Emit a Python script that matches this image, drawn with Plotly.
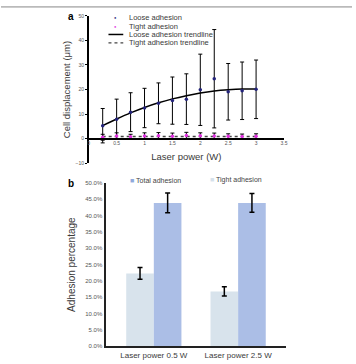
import plotly.graph_objects as go

# ---- Panel a data ----
power = [0.25, 0.5, 0.75, 1.0, 1.25, 1.5, 1.75, 2.0, 2.25, 2.5, 2.75, 3.0]
loose = [5.3, 7.9, 10.8, 12.5, 14.4, 15.5, 16.1, 19.9, 24.4, 19.1, 19.5, 20.1]
loose_err = [7.0, 8.2, 7.9, 8.0, 8.3, 9.6, 10.3, 14.5, 20.0, 11.5, 11.7, 11.9]
tight = [0.6, 1.1, 0.8, 1.1, 1.2, 1.0, 1.3, 1.2, 1.1, 1.0, 0.9, 1.0]
tight_err = [1.2, 1.3, 1.0, 1.3, 1.3, 1.3, 1.3, 1.2, 1.2, 1.0, 1.0, 1.0]
loose_trend = [5.3, 8.0, 10.5, 12.7, 14.6, 16.2, 17.5, 18.6, 19.4, 19.9, 20.2, 20.2]
tight_trend = [0.9, 0.9, 0.9, 0.9, 0.9, 0.9, 0.9, 0.9, 0.9, 0.9, 0.9, 0.9]
xticks_a = [0, 0.5, 1, 1.5, 2, 2.5, 3, 3.5]
xtick_text_a = ["0", "0.5", "1", "1.5", "2", "2.5", "3", "3.5"]
yticks_a = [-10, 0, 10, 20, 30, 40, 50]
legend_a = ["Loose adhesion", "Tight adhesion", "Loose adhesion trendline", "Tight adhesion trendline"]

# ---- Panel b data ----
groups = ["Laser power 0.5 W", "Laser power 2.5 W"]
tight_pct = [0.223, 0.168]
tight_pct_err = [0.018, 0.014]
total_pct = [0.439, 0.439]
total_pct_err = [0.030, 0.029]
legend_b = ["Total adhesion", "Tight adhesion"]

FONT = "Liberation Sans, Arial, sans-serif"
NAVY = "#23237a"
MAGENTA = "#e030e0"
TIGHT_COL = "#d8e3ec"
TOTAL_COL = "#abbee6"
TEXT = "#3a3a3a"

fig = go.Figure()

# Panel a
fig.add_trace(go.Scatter(
    x=power, y=loose_trend, mode="lines", line=dict(color="black", width=1.5, shape="spline"),
    name=legend_a[2], xaxis="x", yaxis="y", showlegend=False))
fig.add_trace(go.Scatter(
    x=power, y=tight_trend, mode="lines", line=dict(color="#444444", width=1.5, dash="dot"),
    name=legend_a[3], xaxis="x", yaxis="y", showlegend=False))
fig.add_trace(go.Scatter(
    x=power, y=loose, mode="markers", marker=dict(color=NAVY, size=3.5),
    error_y=dict(type="data", array=loose_err, color="black", thickness=1, width=2),
    name=legend_a[0], xaxis="x", yaxis="y", showlegend=False))
fig.add_trace(go.Scatter(
    x=power, y=tight, mode="markers", marker=dict(color=MAGENTA, size=3.5),
    error_y=dict(type="data", array=tight_err, color="black", thickness=1, width=2),
    name=legend_a[1], xaxis="x", yaxis="y", showlegend=False))

# Panel b
fig.add_trace(go.Bar(
    x=groups, y=tight_pct, marker=dict(color=TIGHT_COL, line=dict(width=0)),
    error_y=dict(type="data", array=tight_pct_err, color="black", thickness=1.5, width=2.5),
    name=legend_b[1], xaxis="x2", yaxis="y2", showlegend=False))
fig.add_trace(go.Bar(
    x=groups, y=total_pct, marker=dict(color=TOTAL_COL, line=dict(width=0)),
    error_y=dict(type="data", array=total_pct_err, color="black", thickness=1.5, width=2.5),
    name=legend_b[0], xaxis="x2", yaxis="y2", showlegend=False))

W, H = 356, 364
def px(x):
    return x / W
def py(y):
    return 1 - y / H

fig.update_layout(
    width=W, height=H, margin=dict(l=0, r=0, t=0, b=0),
    paper_bgcolor="white", plot_bgcolor="white",
    font=dict(family=FONT, color=TEXT),
    showlegend=False,
    barmode="group", bargap=0.345, bargroupgap=0,
    xaxis=dict(domain=[px(89), px(287)], range=[0, 3.5], anchor="free", position=py(138),
               tickvals=xticks_a, ticktext=xtick_text_a, showgrid=False, zeroline=False,
               showline=True, linecolor="black", linewidth=1.5, ticks="",
               tickfont=dict(size=5, color="#555555"),
               title=dict(text="Laser power (W)", font=dict(size=9.5, color=TEXT), standoff=7)),
    yaxis=dict(domain=[py(163), py(13)], range=[-10, 50], anchor="x", position=px(89),
               tickvals=yticks_a, showgrid=False, zeroline=False,
               showline=True, linecolor="black", linewidth=1.5, ticks="outside", ticklen=2,
               tickcolor="black", tickfont=dict(size=5, color="#555555"),
               title=dict(text="Cell displacement (μm)", font=dict(size=9.5, color=TEXT), standoff=3)),
    xaxis2=dict(domain=[px(106), px(289)], range=[-0.573, 1.567], anchor="y2",
                showgrid=False, showline=True, linecolor="#222222", linewidth=2, ticks="",
                tickfont=dict(size=8, color=TEXT)),
    yaxis2=dict(domain=[py(349), py(183)], range=[0, 0.5], anchor="x2",
                dtick=0.05, tickformat=".1%", showgrid=False, zeroline=False,
                showline=True, linecolor="#222222", linewidth=2, ticks="",
                tickfont=dict(size=6, color="#555555"),
                title=dict(text="Adhesion percentage", font=dict(size=10, color=TEXT), standoff=8)),
)

def note(text, x, y, size, color=TEXT, xanchor="left"):
    fig.add_annotation(text=text, xref="paper", yref="paper", x=x, y=y,
                       xanchor=xanchor, yanchor="middle", showarrow=False,
                       font=dict(size=size, color=color, family=FONT))

# top rule
fig.add_shape(type="line", xref="paper", yref="paper", x0=0, x1=1, y0=py(4), y1=py(4),
              line=dict(color="#888888", width=1))
# panel labels
note("<b>a</b>", px(71), py(14), 10, "black", "center")
note("<b>b</b>", px(71), py(184), 10, "black", "center")

# legend a (manual, compact)
rows = [py(15), py(23.5), py(32), py(40.5)]
note(f'<span style="color:{NAVY}">●</span>', px(116.5), rows[0], 4, NAVY, "center")
note(f'<span style="color:{MAGENTA}">●</span>', px(116.5), rows[1], 4, MAGENTA, "center")
fig.add_shape(type="line", xref="paper", yref="paper", x0=px(109), x1=px(124), y0=rows[2], y1=rows[2],
              line=dict(color="black", width=1.5))
fig.add_shape(type="line", xref="paper", yref="paper", x0=px(109), x1=px(124), y0=rows[3], y1=rows[3],
              line=dict(color="#444444", width=1.2, dash="dot"))
for label, yy in zip(legend_a, rows):
    note(label, px(127.5), yy, 7.5)

# legend b (manual)
note(f'<span style="color:#8fa9db">■</span> {legend_b[0]}', px(129), py(180), 7, "#444444")
note(f'<span style="color:#d5e1eb">■</span> {legend_b[1]}', px(210), py(180), 7, "#444444")

fig.write_html("out.html")
